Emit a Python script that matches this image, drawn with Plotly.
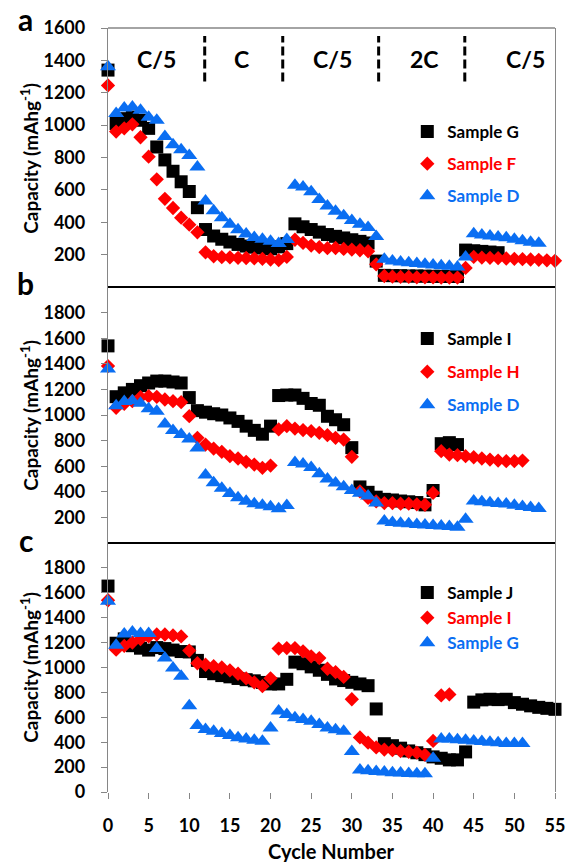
import plotly.graph_objects as go

# ---------------- data ----------------
cycles_max = 55

# panel a
sample_G_a = [1340, 1010, 1040, 1050, 1030, 980, 865, 785, 715, 650,
              590, 490, 355, 315, 295, 278, 263, 253, 246, 241,
              236, 248, 268, 390, 372, 355, 339, 324, 313, 303,
              292, 282, 272, 160, 72, 70, 70, 68, 68, 67,
              66, 66, 65, 65, 228, 224, 220, 216, 212]
sample_F = [1245, 960, 980, 1005, 925, 805, 665, 545, 488, 428,
            385, 338, 214, 190, 184, 183, 180, 179, 177, 174,
            170, 166, 186, 292, 272, 256, 246, 240, 241, 235,
            231, 227, 221, 140, 68, 64, 62, 62, 60, 60,
            60, 58, 58, 58, 118, 186, 182, 180, 178, 176,
            174, 172, 170, 168, 165, 162]
sample_D = [1360, 1072, 1106, 1112, 1092, 1048, 1030, 930, 878, 848,
            813, 742, 532, 471, 428, 387, 354, 327, 306, 295,
            283, 268, 293, 628, 618, 589, 541, 500, 468, 440,
            411, 388, 368, 312, 172, 161, 155, 150, 145, 140,
            136, 132, 128, 124, 185, 329, 322, 315, 309, 305,
            295, 285, 277, 270]

# panel b
sample_I = [1540, 1143, 1173, 1200, 1229, 1250, 1265, 1265, 1258, 1250,
            1136, 1034, 1022, 1010, 1000, 977, 950, 913, 880, 850,
            913, 1152, 1156, 1156, 1130, 1090, 1076, 990, 963, 924,
            745, 438, 396, 358, 341, 336, 328, 322, 316, 298,
            410, 776, 784, 769]
sample_H = [1382, 1056, 1087, 1108, 1139, 1147, 1142, 1121, 1108, 1100,
            991, 822, 769, 738, 712, 678, 660, 634, 613, 587,
            605, 887, 913, 894, 882, 874, 861, 842, 822, 808,
            673, 404, 352, 325, 312, 312, 307, 307, 302, 299,
            391, 717, 691, 686, 678, 670, 660, 652, 644, 639,
            639, 644]

# panel c
sample_J = [1654, 1195, 1230, 1175, 1155, 1140, 1160, 1152, 1140, 1128,
            1125, 1057, 968, 950, 935, 925, 912, 902, 893, 880,
            868, 868, 905, 1043, 1030, 1005, 978, 945, 908, 895,
            881, 868, 854, 667, 388, 372, 352, 330, 315, 300,
            282, 271, 258, 258, 322, 722, 740, 745, 742, 745,
            718, 705, 692, 680, 672, 664]
sample_I_c_count = 43
sample_G_c = [1532, 1179, 1270, 1285, 1274, 1274, 1152, 1076, 995, 930,
              692, 534, 502, 488, 469, 453, 436, 426, 415, 407,
              515, 651, 623, 597, 583, 569, 542, 515, 501, 488,
              325, 176, 171, 165, 160, 155, 152, 149, 147, 146,
              271, 426, 426, 420, 415, 410, 406, 400, 395, 390,
              390, 390]

rate_labels = ["C/5", "C", "C/5", "2C", "C/5"]
rate_label_x = [6.0, 16.4, 27.6, 38.9, 51.4]
rate_boundaries = [11.9, 21.5, 33.3, 43.9]
x_ticks = list(range(0, 56, 5))

# ---------------- style ----------------
FONT = "Lato"
BLACK = "#000000"
RED = "#FF0000"
BLUE = "#0A6EF2"
AXIS_GREY = "#868686"

W, H = 576, 862
M_L, M_R, M_T, M_B = 108, 11, 28, 70
plot_h = H - M_T - M_B
plot_w = W - M_L - M_R


def py(pix):
    """pixel row -> paper y"""
    return (H - M_B - pix) / plot_h


def px(pix):
    """pixel column -> paper x"""
    return (pix - M_L) / plot_w


dom_a = [py(287), 1.0]
dom_b = [py(543), py(287)]
dom_c = [0.0, py(543)]

fig = go.Figure()

series = [
    # (values, name, colour, symbol, size, xaxis, yaxis, legend)
    (sample_G_a, "Sample G", BLACK, "square", 13, "x", "y", "legend"),
    (sample_F, "Sample F", RED, "diamond", 11, "x", "y", "legend"),
    (sample_D, "Sample D", BLUE, "triangle-up", 14, "x", "y", "legend"),
    (sample_I, "Sample I", BLACK, "square", 13, "x2", "y2", "legend2"),
    (sample_H, "Sample H", RED, "diamond", 11, "x2", "y2", "legend2"),
    (sample_D, "Sample D", BLUE, "triangle-up", 14, "x2", "y2", "legend2"),
    (sample_J, "Sample J", BLACK, "square", 13, "x3", "y3", "legend3"),
    (sample_I[:sample_I_c_count], "Sample I", RED, "diamond", 11, "x3", "y3", "legend3"),
    (sample_G_c, "Sample G", BLUE, "triangle-up", 14, "x3", "y3", "legend3"),
]

for i, (vals, name, col, sym, size, xa, ya, leg) in enumerate(series):
    fig.add_trace(go.Scatter(
        x=list(range(len(vals))), y=vals, mode="markers",
        name=f"<span style='color:{col}'>{name}</span>",
        marker=dict(symbol=sym, size=size, color=col, line=dict(width=0)),
        xaxis=xa, yaxis=ya, legend=leg, legendgroup=f"g{i}",
        cliponaxis=False, showlegend=True,
    ))

tick_font = dict(family=FONT, size=18, color=BLACK, weight=700)

yaxis_common = dict(
    showline=True, linecolor=AXIS_GREY, linewidth=1.3, mirror=True,
    ticks="outside", ticklen=6, tickcolor=AXIS_GREY, tickwidth=1.3,
    showgrid=False, zeroline=False, tickfont=tick_font,
    ticklabelstandoff=12,
)
xaxis_common = dict(range=[0, cycles_max], showgrid=False, zeroline=False,
                    showline=False)

fig.update_layout(
    width=W, height=H,
    margin=dict(l=M_L, r=M_R, t=M_T, b=M_B, pad=0),
    paper_bgcolor="white", plot_bgcolor="white",
    xaxis=dict(**xaxis_common, anchor="y", showticklabels=False, ticks=""),
    xaxis2=dict(**xaxis_common, anchor="y2", showticklabels=False, ticks="",
                matches="x"),
    xaxis3=dict(**xaxis_common, anchor="y3", matches="x",
                tickvals=x_ticks, ticks="outside", ticklen=6,
                tickcolor=AXIS_GREY, tickwidth=1.3, tickfont=tick_font,
                ticklabelstandoff=11),
    yaxis=dict(**yaxis_common, domain=dom_a, range=[0, 1600],
               tickvals=list(range(200, 1601, 200)), anchor="x"),
    yaxis2=dict(**yaxis_common, domain=dom_b, range=[0, 2000],
                tickvals=list(range(200, 1801, 200)), anchor="x2"),
    yaxis3=dict(**yaxis_common, domain=dom_c, range=[0, 2000],
                tickvals=list(range(0, 1801, 200)), anchor="x3"),
)

legend_common = dict(
    font=dict(family=FONT, size=17, color=BLACK, weight=700),
    bgcolor="rgba(0,0,0,0)", borderwidth=0,
    xanchor="left", yanchor="top", itemclick=False,
)
fig.update_layout(
    legend=dict(**legend_common, x=px(414), y=py(114), tracegroupgap=7),
    legend2=dict(**legend_common, x=px(414), y=py(321), tracegroupgap=8),
    legend3=dict(**legend_common, x=px(414), y=py(575), tracegroupgap=0),
)

# frame: grey top edge, black separators between panels
shapes = [
    dict(type="line", xref="paper", yref="paper", x0=0, x1=1, y0=1, y1=1,
         line=dict(color=AXIS_GREY, width=1.3)),
    dict(type="line", xref="paper", yref="paper", x0=0, x1=1,
         y0=dom_a[0], y1=dom_a[0], line=dict(color=BLACK, width=2.2)),
    dict(type="line", xref="paper", yref="paper", x0=0, x1=1,
         y0=dom_b[0], y1=dom_b[0], line=dict(color=BLACK, width=2.2)),
]
# rate-change markers in panel a
for xb in rate_boundaries:
    shapes.append(dict(type="line", xref="x", yref="y", x0=xb, x1=xb,
                       y0=1270, y1=1550,
                       line=dict(color=BLACK, width=3, dash="9px,4px")))
fig.update_layout(shapes=shapes)

ann = []
for lab, xl in zip(rate_labels, rate_label_x):
    ann.append(dict(text=lab, x=xl, y=1411, xref="x", yref="y",
                    xanchor="center", yanchor="middle", showarrow=False,
                    font=dict(family=FONT, size=23, color=BLACK, weight=700)))

for letter, ypix in [("a", 19), ("b", 283), ("c", 540)]:
    ann.append(dict(text=letter, x=px(24), y=py(ypix), xref="paper",
                    yref="paper", xanchor="center", yanchor="middle",
                    showarrow=False,
                    font=dict(family=FONT, size=30, color=BLACK, weight=700)))

ytitle = "Capacity (mAhg<sup>-1</sup>)"
for ypix in [158, 415, 667]:
    ann.append(dict(text=ytitle, x=px(27), y=py(ypix), xref="paper",
                    yref="paper", xanchor="center", yanchor="middle",
                    showarrow=False, textangle=-90,
                    font=dict(family=FONT, size=19, color=BLACK, weight=700)))

ann.append(dict(text="Cycle Number", x=0.5, y=py(851), xref="paper",
                yref="paper", xanchor="center", yanchor="middle",
                showarrow=False,
                font=dict(family=FONT, size=20, color=BLACK, weight=700)))
fig.update_layout(annotations=ann)

fig.write_html("out.html")
